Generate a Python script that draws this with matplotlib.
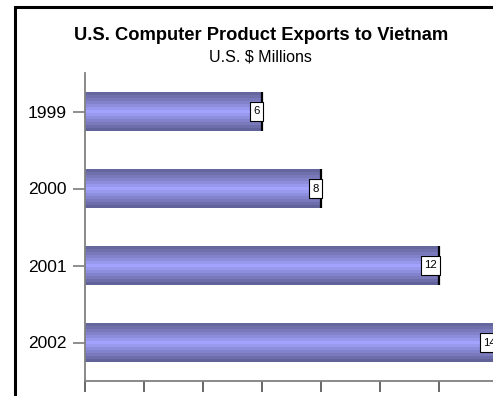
import numpy as np
import matplotlib
matplotlib.use("Agg")
import matplotlib.pyplot as plt
from matplotlib.patches import Rectangle
from matplotlib.path import Path
from matplotlib.colors import LinearSegmentedColormap

plt.rcParams['font.family'] = ['Liberation Sans', 'DejaVu Sans']

# Data
years = ["1999", "2000", "2001", "2002"]
exports = [6, 8, 12, 14]
x_ticks = [0, 2, 4, 6, 8, 10, 12, 14, 16]

title = "U.S. Computer Product Exports to Vietnam"
subtitle = "U.S. $ Millions"

W, H = 493, 396
fig = plt.figure(figsize=(W / 100, H / 100), dpi=100)
fig.patch.set_facecolor("white")

# Outer frame (extends past the right and bottom edges)
fig.patches.append(Rectangle((14.5 / W, -0.2), 1.2, 1 - 7.5 / H + 0.2,
                             transform=fig.transFigure, fill=False,
                             edgecolor="black", linewidth=2.2, zorder=0))

fig.text(261 / W, 1 - 35 / H, title, ha="center", va="center",
         fontsize=13.2, fontweight="bold")
fig.text(260 / W, 1 - 57 / H, subtitle, ha="center", va="center",
         fontsize=11.5)


def label_box(x0, y0, width, height, mutation_size):
    """Rectangle with a bit more vertical than horizontal padding."""
    px, py = 0.28 * mutation_size, 0.42 * mutation_size
    l, b, r, t = x0 - px, y0 - py, x0 + width + px, y0 + height + py
    return Path([(l, b), (r, b), (r, t), (l, t), (l, b)], closed=True)


# Axes in pixel layout; x range runs beyond the figure edge
x0, y_top, y_bot = 85, 73, 381
px_per_unit = 29.5
xmax = 16
ax = fig.add_axes([x0 / W, 1 - y_bot / H, xmax * px_per_unit / W, (y_bot - y_top) / H])
ax.set_xlim(0, xmax)
ax.set_ylim(3.5, -0.5)

ypos = np.arange(len(years))
bar_h = 0.5
bars = ax.barh(ypos, exports, height=bar_h, color="none", edgecolor="none")

cmap = LinearSegmentedColormap.from_list(
    "band", [(0.0, "#66669e"), (0.2, "#7c7cc0"), (0.5, "#a4a4ff"),
             (0.8, "#7e7ec4"), (1.0, "#62629a")])
levels = np.linspace(0, 1, 13)[:, None]
for rect, y, v in zip(bars, ypos, exports):
    im = ax.imshow(levels, cmap=cmap, aspect="auto", interpolation="nearest",
                   extent=(0, v, y + bar_h / 2, y - bar_h / 2), zorder=2)
    im.set_clip_path(rect)
    ax.plot([v, v], [y - bar_h / 2, y + bar_h / 2], color="black",
            linewidth=1.6, zorder=3, solid_capstyle="butt")
    ax.text(v - 0.07, y, str(v), ha="right", va="center", fontsize=8.2,
            zorder=4,
            bbox=dict(boxstyle=label_box, facecolor="white",
                      edgecolor="black", linewidth=0.8))

ax.set_xlim(0, xmax)
ax.set_ylim(3.5, -0.5)
ax.set_yticks(ypos)
ax.set_yticklabels(years, fontsize=12.5)
ax.set_xticks(x_ticks)
ax.set_xticklabels([])

for side in ("top", "right"):
    ax.spines[side].set_visible(False)
for side in ("left", "bottom"):
    ax.spines[side].set_color("#808080")
    ax.spines[side].set_linewidth(1.3)

ax.tick_params(axis="y", direction="out", length=8.5, width=1.1,
               color="#707070", pad=4.5)
ax.tick_params(axis="x", direction="out", length=8, width=1.1,
               color="#404040")

fig.savefig("out.png", dpi=100, facecolor="white")
